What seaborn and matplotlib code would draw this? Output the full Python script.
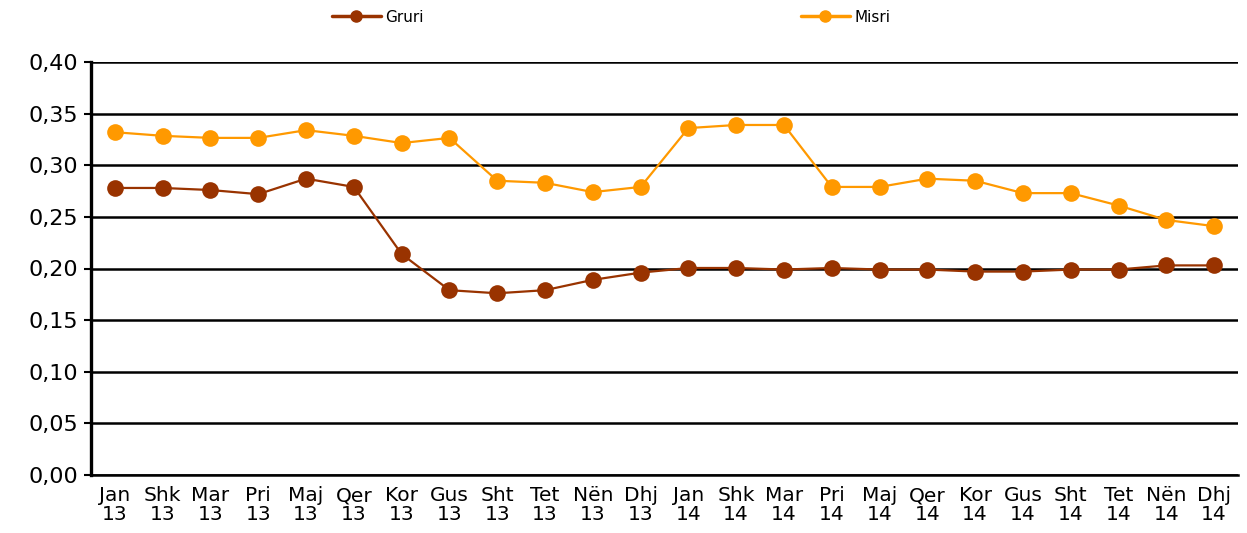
import numpy as np
import pandas as pd
import matplotlib
matplotlib.use("Agg")
import matplotlib.pyplot as plt
import seaborn as sns
from matplotlib.ticker import FixedLocator

MONTHS = ["Jan", "Shk", "Mar", "Pri", "Maj", "Qer", "Kor", "Gus", "Sht", "Tet", "Nën", "Dhj"]
YEARS = ["13", "14"]
LABELS = [f"{m}\n{y}" for y in YEARS for m in MONTHS]

GRURI = [0.278, 0.278, 0.276, 0.272, 0.287, 0.279, 0.214, 0.179, 0.176, 0.179, 0.189, 0.196,
         0.2005, 0.2005, 0.199, 0.2005, 0.199, 0.199, 0.197, 0.197, 0.199, 0.199, 0.203, 0.203]
MISRI = [0.332, 0.3285, 0.3265, 0.3265, 0.334, 0.3285, 0.3215, 0.3265, 0.285, 0.283, 0.274, 0.279,
         0.336, 0.339, 0.339, 0.279, 0.279, 0.287, 0.285, 0.273, 0.273, 0.261, 0.247, 0.241]

SERIES = {"Gruri": GRURI, "Misri": MISRI}
COLORS = {"Gruri": "#993300", "Misri": "#FF9900"}


def main():
    sns.set_style("white")
    plt.rcParams["font.family"] = ["DejaVu Sans"]
    plt.rcParams["text.color"] = "black"
    plt.rcParams["xtick.color"] = "black"
    plt.rcParams["ytick.color"] = "black"

    df = pd.DataFrame(
        [(i, name, v) for name, vals in SERIES.items() for i, v in enumerate(vals)],
        columns=["x", "seria", "vlera"],
    )

    fig = plt.figure(figsize=(12.47, 5.33), dpi=100)
    ax = fig.add_axes([91 / 1247, 58 / 533, 1147 / 1247, 413 / 533])

    sns.lineplot(
        data=df, x="x", y="vlera", hue="seria", palette=COLORS, marker="o",
        markersize=12, markeredgewidth=0, linewidth=1.6, ax=ax, legend=False,
    )

    ax.set_xlim(-0.5, len(LABELS) - 0.5)
    ax.set_ylim(0, 0.40)
    ax.set_yticks(np.arange(0, 0.401, 0.05))
    ax.set_yticklabels([f"{t:.2f}".replace(".", ",") for t in ax.get_yticks()], fontsize=16)
    ax.set_xticks(range(len(LABELS)))
    ax.set_xticklabels(LABELS, fontsize=14.5, linespacing=1.0)
    ax.xaxis.set_minor_locator(FixedLocator(np.arange(-0.5, len(LABELS), 1.0)))
    ax.tick_params(axis="x", which="major", length=0, pad=8)
    ax.tick_params(axis="x", which="minor", length=5, width=1.5, color="black", direction="out")
    ax.tick_params(axis="y", length=5, width=1.5, color="black", direction="out", left=True, pad=4)
    ax.set_xlabel("")
    ax.set_ylabel("")

    ax.grid(axis="y", color="black", linewidth=1.8)
    ax.set_axisbelow(True)
    for side in ["top", "right"]:
        ax.spines[side].set_visible(False)
    ax.spines["left"].set_linewidth(2.4)
    ax.spines["left"].set_color("black")
    ax.spines["bottom"].set_linewidth(1.8)
    ax.spines["bottom"].set_color("black")

    # legend entries spread out above the plot
    for name, xpos in [("Gruri", 0.303), ("Misri", 0.678)]:
        h = plt.Line2D([], [], color=COLORS[name], marker="o", markersize=8, linewidth=2.5)
        fig.legend([h], [name], loc="center", bbox_to_anchor=(xpos, 0.968), frameon=False,
                   fontsize=11, handlelength=3.2, handletextpad=0.3)

    fig.savefig("out.png", dpi=100)
    plt.close(fig)


if __name__ == "__main__":
    main()
